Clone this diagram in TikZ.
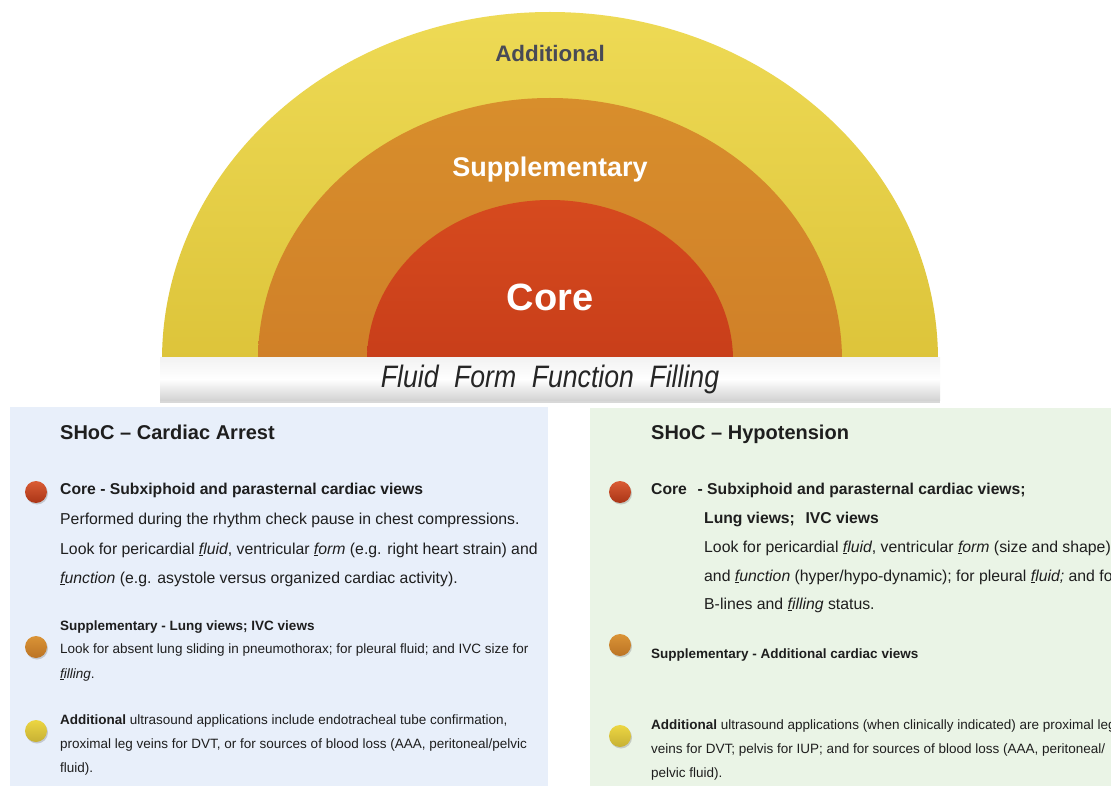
\documentclass[tikz,border=0pt]{standalone}
\usepackage{fontspec}
\setmainfont{Liberation Sans}
\newfontfamily\narrowfont[FakeStretch=0.86]{Liberation Sans}
\usetikzlibrary{shadows}
\definecolor{ylw}{RGB}{236,214,66}
\definecolor{ylwdk}{RGB}{221,196,58}
\definecolor{org}{RGB}{216,142,44}
\definecolor{orgdk}{RGB}{208,128,40}
\definecolor{rd}{RGB}{214,74,30}
\definecolor{rddk}{RGB}{200,62,26}
\definecolor{lblue}{RGB}{232,239,250}
\definecolor{lgreen}{RGB}{234,244,230}
\definecolor{txt}{RGB}{30,30,30}
\definecolor{addtxt}{RGB}{72,74,86}
\newcommand{\fu}[2]{\textit{\underline{#1}#2}}
\tikzset{
  line/.style={anchor=base west, inner sep=0pt, text=txt, font=\fontsize{15.8}{18}\selectfont},
  small/.style={anchor=base west, inner sep=0pt, text=txt, font=\fontsize{13.5}{16}\selectfont},
  ttl/.style={anchor=base west, inner sep=0pt, text=txt, font=\fontsize{20}{23}\selectfont\bfseries},
  bullet/.style={circle, minimum size=22pt, inner sep=0pt, drop shadow={opacity=0.35, shadow xshift=1pt, shadow yshift=-1.5pt}},
  redb/.style={bullet, top color=rd!90!white, bottom color=rddk!85!black},
  orgb/.style={bullet, top color=org!95!white, bottom color=orgdk!90!black},
  ylwb/.style={bullet, top color=ylw, bottom color=ylwdk!90!black},
}
\begin{document}
\begin{tikzpicture}[x=1pt,y=-1pt]
\useasboundingbox (0,0) rectangle (1111,786);
\clip (0,0) rectangle (1111,786);
\fill[white] (0,0) rectangle (1111,786);
% semi-ellipses
\path[top color=ylw!90!white, bottom color=ylwdk] (162,360) arc[start angle=180, end angle=360, x radius=388, y radius=348] -- cycle;
\path[top color=org, bottom color=orgdk] (258,360) arc[start angle=180, end angle=360, x radius=292, y radius=262] -- cycle;
\path[top color=rd, bottom color=rddk] (367,360) arc[start angle=180, end angle=360, x radius=183, y radius=160] -- cycle;
\node[text=addtxt, font=\fontsize{22.4}{26}\selectfont\bfseries] (addl) at (550,53) {Additional};
\node[text=white, font=\fontsize{27}{31}\selectfont\bfseries] (supl) at (550,170) {Supplementary};
\node[text=white, font=\fontsize{38}{44}\selectfont\bfseries] (core) at (550,297) {Core};
% bar
\node[draw=none, minimum width=780pt, minimum height=43pt, top color=gray!10, bottom color=gray!35, middle color=white,
  drop shadow={opacity=0.3, shadow xshift=0pt, shadow yshift=-2pt},
  font=\narrowfont\fontsize{31}{35}\selectfont\itshape, text=black!85] (bar) at (550,379)
  {Fluid\hspace{0.5em}Form\hspace{0.5em}Function\hspace{0.5em}Filling};
% boxes
\fill[lblue] (10,407) rectangle (548,790);
\fill[lgreen] (590,408) rectangle (1115,790);
% left box
\node[ttl] (lt) at (60,439) {SHoC -- Cardiac Arrest};
\node[redb] (lb1) at (36,492) {};
\node[line, font=\fontsize{15.7}{18}\selectfont\bfseries] (lc) at (60,494) {Core - Subxiphoid and parasternal cardiac views};
\node[line] (l1) at (60,524) {Performed during the rhythm check pause in chest compressions.};
\node[line] (l2) at (60,554) {Look for pericardial \fu{f}{luid}, ventricular \fu{f}{orm} (e.g. right heart strain) and};
\node[line] (l3) at (60,583) {\fu{f}{unction} (e.g. asystole versus organized cardiac activity).};
\node[orgb] (lb2) at (36,647) {};
\node[small, font=\fontsize{13.5}{16}\selectfont\bfseries] (ls) at (60,630) {Supplementary - Lung views; IVC views};
\node[small] (ls1) at (60,653) {Look for absent lung sliding in pneumothorax; for pleural fluid; and IVC size for};
\node[small] (ls2) at (60,678) {\fu{f}{illing}.};
\node[ylwb] (lb3) at (36,731) {};
\node[small] (la1) at (60,724) {\textbf{Additional} ultrasound applications include endotracheal tube confirmation,};
\node[small] (la2) at (60,748) {proximal leg veins for DVT, or for sources of blood loss (AAA, peritoneal/pelvic};
\node[small] (la3) at (60,772) {fluid).};
% right box
\node[ttl] (rt) at (651,439) {SHoC -- Hypotension};
\node[redb] (rb1) at (620,492) {};
\node[line, font=\fontsize{15.7}{18}\selectfont\bfseries] (rc) at (651,494) {Core\hspace{0.4em} - Subxiphoid and parasternal cardiac views;};
\node[line, font=\fontsize{15.7}{18}\selectfont\bfseries] (rc2) at (704,523) {Lung views;\hspace{0.4em} IVC views};
\node[line] (r1) at (704,552) {Look for pericardial \fu{f}{luid}, ventricular \fu{f}{orm} (size and shape)};
\node[line] (r2) at (704,581) {and \fu{f}{unction} (hyper/hypo-dynamic); for pleural \fu{f}{luid;} and for};
\node[line] (r3) at (704,609) {B-lines and \fu{f}{illing} status.};
\node[orgb] (rb2) at (620,645) {};
\node[small, font=\fontsize{13.5}{16}\selectfont\bfseries] (rs) at (651,658) {Supplementary - Additional cardiac views};
\node[ylwb] (rb3) at (620,736) {};
\node[small] (ra1) at (651,729) {\textbf{Additional} ultrasound applications (when clinically indicated) are proximal leg};
\node[small] (ra2) at (651,753) {veins for DVT; pelvis for IUP; and for sources of blood loss (AAA, peritoneal/};
\node[small] (ra3) at (651,777) {pelvic fluid).};
\end{tikzpicture}
\end{document}
